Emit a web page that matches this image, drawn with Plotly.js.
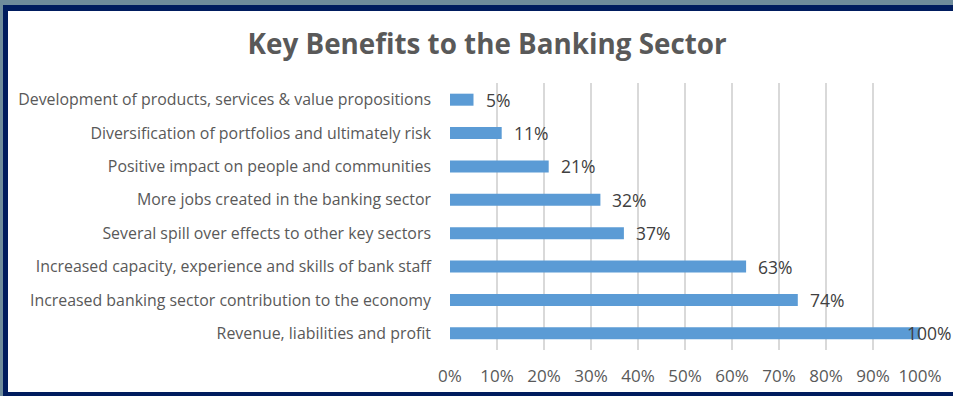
<!DOCTYPE html>
<html>
<head>
<meta charset="utf-8">
<script src="https://cdn.plot.ly/plotly-3.0.1.min.js"></script>
<style>
  html, body { margin: 0; padding: 0; width: 953px; height: 396px; overflow: hidden; background: #6f8c9b; }
  #frame { position: absolute; left: 3px; top: 5px; width: 945px; height: 381px;
           border-left: 5px solid #001c5e; border-top: 6px solid #001c5e; border-bottom: 4px solid #001c5e; background: #fff; }
  #chart { width: 945px; height: 381px; }
</style>
</head>
<body>
<div id="frame"><div id="chart"></div></div>
<script>
const categories = [
  "Development of products, services & value propositions",
  "Diversification of portfolios and ultimately risk",
  "Positive impact on people and communities",
  "More jobs created in the banking sector",
  "Several spill over effects to other key sectors",
  "Increased capacity, experience and skills of bank staff",
  "Increased banking sector contribution to the economy",
  "Revenue, liabilities and profit"
];
const values = [5, 11, 21, 32, 37, 63, 74, 100];
const tickValues = [0, 10, 20, 30, 40, 50, 60, 70, 80, 90, 100];
const tickLabels = ["0%", "10%", "20%", "30%", "40%", "50%", "60%", "70%", "80%", "90%", "100%"];

const FONT = "'Open Sans', 'Noto Sans', sans-serif";

const trace = {
  type: "bar",
  orientation: "h",
  x: values,
  y: categories,
  marker: { color: "#5b9bd5" },
  hoverinfo: "none"
};

// labels that would run past the chart's right edge are pulled back over the bar end
const annotations = values.map((v, i) => ({
  x: v, y: categories[i], xref: "x", yref: "y",
  text: v + "%", showarrow: false, xanchor: "left",
  xshift: v >= 95 ? -15 : 10,
  font: { family: FONT, size: 17.5, color: "#404040" }
}));

const layout = {
  width: 945, height: 381,
  margin: { l: 442, r: 33, t: 72, b: 42 },
  paper_bgcolor: "#ffffff", plot_bgcolor: "#ffffff",
  showlegend: false,
  bargap: 0.64,
  title: {
    text: "<b>Key Benefits to the Banking Sector</b>",
    font: { family: FONT, size: 27.8, color: "#595959" },
    xref: "container", x: 0.507, xanchor: "center",
    yref: "container", y: 0.913, yanchor: "middle"
  },
  xaxis: {
    range: [0, 100], tickvals: tickValues, ticktext: tickLabels,
    showgrid: true, gridcolor: "#d9d9d9", gridwidth: 1.5, zeroline: false,
    showline: false, ticks: "", ticklabelstandoff: 14,
    tickfont: { family: FONT, size: 17, color: "#595959" }, fixedrange: true
  },
  yaxis: {
    autorange: "reversed", type: "category",
    showgrid: false, zeroline: false, showline: false, ticks: "",
    ticklabelstandoff: 18,
    tickfont: { family: FONT, size: 15.9, color: "#595959" }, fixedrange: true
  },
  annotations: annotations
};

Plotly.newPlot("chart", [trace], layout, { displayModeBar: false, staticPlot: true });
</script>
</body>
</html>
